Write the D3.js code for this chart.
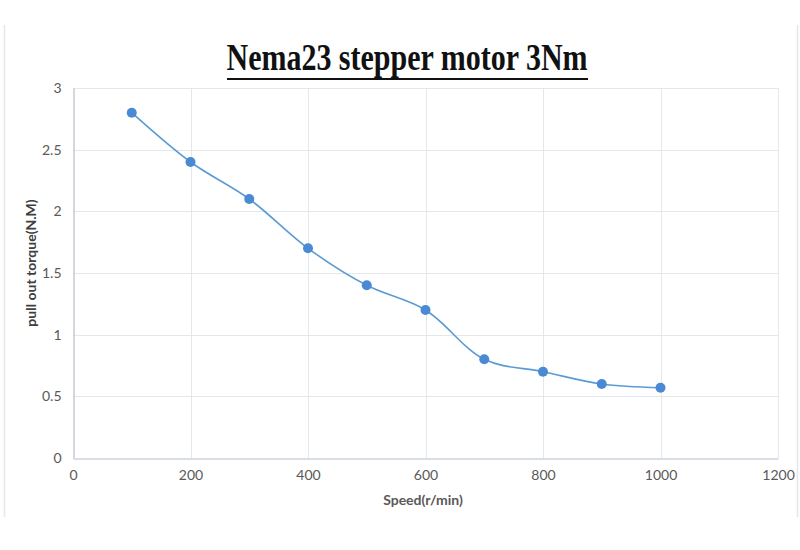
<!DOCTYPE html>
<html>
<head>
<meta charset="utf-8">
<script src="https://cdn.jsdelivr.net/npm/d3@7"></script>
<style>
  body { margin: 0; background: #fff; }
  svg { display: block; }
</style>
</head>
<body>
<div id="chart"></div>
<script>
// torque curve
var speeds = [100, 200, 300, 400, 500, 600, 700, 800, 900, 1000];
var torques = [2.8, 2.4, 2.1, 1.7, 1.4, 1.2, 0.8, 0.7, 0.6, 0.57];
var xTicks = [0, 200, 400, 600, 800, 1000, 1200];
var yTicks = [0, 0.5, 1, 1.5, 2, 2.5, 3];
var titleText = "Nema23 stepper motor 3Nm";
var xTitle = "Speed(r/min)";
var yTitle = "pull out torque(N.M)";

var width = 800,
  height = 550,
  margin = {top: 88, right: 22, bottom: 92, left: 73};

var svg = d3.select("#chart").append("svg")
  .attr("width", width)
  .attr("height", height);

// faint frame edges of the original picture
svg.append("line").attr("x1", 4.5).attr("x2", 4.5).attr("y1", 25).attr("y2", 517)
  .attr("stroke", "#e6e6e6").attr("stroke-width", 1.5);
svg.append("line").attr("x1", 797.5).attr("x2", 797.5).attr("y1", 25).attr("y2", 517)
  .attr("stroke", "#e6e6e6").attr("stroke-width", 1.5);

var x = d3.scaleLinear().domain([0, 1200]).range([margin.left, width - margin.right]);
var y = d3.scaleLinear().domain([0, 3]).range([height - margin.bottom, margin.top]);

// grid
svg.append("g")
  .selectAll("line.h")
  .data(yTicks.slice(1))
  .enter().append("line")
  .attr("x1", x(0)).attr("x2", x(1200))
  .attr("y1", function(d){ return Math.round(y(d)) + 0.5; })
  .attr("y2", function(d){ return Math.round(y(d)) + 0.5; })
  .attr("stroke", "#e4e7ec").attr("stroke-width", 1);
svg.append("g")
  .selectAll("line.v")
  .data(xTicks.slice(1))
  .enter().append("line")
  .attr("y1", y(0)).attr("y2", y(3))
  .attr("x1", function(d){ return Math.round(x(d)) + 0.5; })
  .attr("x2", function(d){ return Math.round(x(d)) + 0.5; })
  .attr("stroke", "#e4e7ec").attr("stroke-width", 1);

// axes
var xAxis = svg.append("g")
  .attr("transform", "translate(0," + (Math.round(y(0)) + 0.5) + ")")
  .call(d3.axisBottom(x).tickValues(xTicks).tickSize(0).tickPadding(12)
    .tickFormat(function(d){ return d; }));
var yAxis = svg.append("g")
  .attr("transform", "translate(" + (Math.round(x(0)) + 0.5) + ",0)")
  .call(d3.axisLeft(y).tickValues(yTicks).tickSize(0).tickPadding(12)
    .tickFormat(function(d){ return d; }));

[xAxis, yAxis].forEach(function(a){
  a.select(".domain").attr("stroke", "#b4bccb").attr("stroke-width", 1.2);
  a.selectAll("text")
    .attr("fill", "#595959")
    .style("font-family", "Lato, 'Open Sans', sans-serif")
    .style("font-size", "14px");
});

// line + points
var line = d3.line()
  .x(function(d, i){ return x(speeds[i]); })
  .y(function(d){ return y(d); })
  .curve(d3.curveCatmullRom.alpha(0.5));

svg.append("path")
  .datum(torques)
  .attr("d", line)
  .attr("fill", "none")
  .attr("stroke", "#5b9bd5")
  .attr("stroke-width", 1.6);

svg.selectAll("circle.pt")
  .data(torques)
  .enter().append("circle")
  .attr("cx", function(d, i){ return x(speeds[i]); })
  .attr("cy", function(d){ return y(d); })
  .attr("r", 5)
  .attr("fill", "#4a8ad4");

// titles
var title = svg.append("text")
  .attr("x", 407).attr("y", 70)
  .attr("text-anchor", "middle")
  .attr("textLength", 361)
  .attr("lengthAdjust", "spacingAndGlyphs")
  .style("font-family", "'Liberation Serif', 'DejaVu Serif', serif")
  .style("font-weight", "bold")
  .style("font-size", "37px")
  .attr("fill", "#111")
  .text(titleText);
svg.append("line")
  .attr("x1", 227).attr("x2", 588).attr("y1", 79).attr("y2", 79)
  .attr("stroke", "#111").attr("stroke-width", 2);

svg.append("text")
  .attr("x", 423).attr("y", 505)
  .attr("text-anchor", "middle")
  .style("font-family", "Lato, 'Open Sans', sans-serif")
  .style("font-weight", "bold")
  .style("font-size", "14px")
  .attr("fill", "#595959")
  .text(xTitle);

svg.append("text")
  .attr("transform", "translate(36,263) rotate(-90)")
  .attr("text-anchor", "middle")
  .style("font-family", "Lato, 'Open Sans', sans-serif")
  .style("font-weight", "bold")
  .style("font-size", "14px")
  .attr("fill", "#404040")
  .text(yTitle);
</script>
</body>
</html>
